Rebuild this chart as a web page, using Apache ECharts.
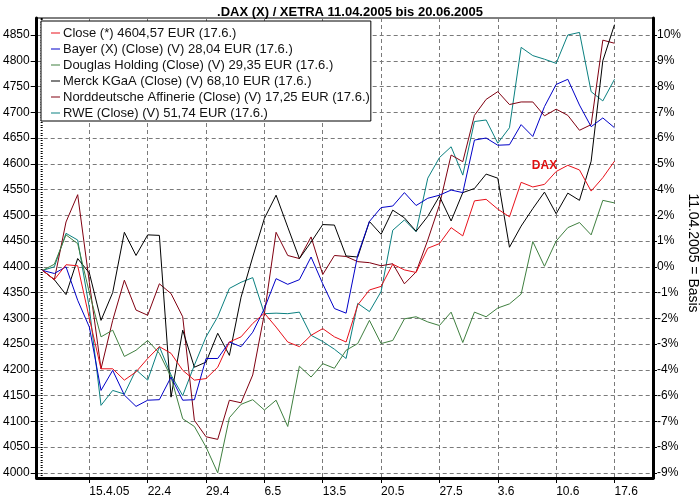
<!DOCTYPE html>
<html><head><meta charset="utf-8">
<script src="https://cdn.jsdelivr.net/npm/echarts@6/dist/echarts.min.js"></script>
<style>html,body{margin:0;padding:0;background:#fff}#c{width:700px;height:500px}</style>
</head><body><div id="c"></div>
<script>
// trading days 11.04.2005 (index 0) .. 17.06.2005 (index 49)
const xTickIndex = [4, 9, 14, 19, 24, 29, 34, 39, 44, 49];
const xTickLabels = ['15.4.05', '22.4', '29.4', '6.5', '13.5', '20.5', '27.5', '3.6', '10.6', '17.6'];
const leftTicks = [4000, 4050, 4100, 4150, 4200, 4250, 4300, 4350, 4400, 4450, 4500, 4550, 4600, 4650, 4700, 4750, 4800, 4850];
const rightTickLabels = ['-9%', '-8%', '-7%', '-6%', '-4%', '-3%', '-2%', '-1%', '0%', '1%', '2%', '4%', '5%', '6%', '7%', '8%', '9%', '10%'];

const seriesNames = [
  'Close (*) 4604,57 EUR (17.6.)',
  'Bayer (X) (Close) (V) 28,04 EUR (17.6.)',
  'Douglas Holding (Close) (V) 29,35 EUR (17.6.)',
  'Merck KGaA (Close) (V) 68,10 EUR (17.6.)',
  'Norddeutsche Affinerie (Close) (V) 17,25 EUR (17.6.)',
  'RWE (Close) (V) 51,74 EUR (17.6.)'
];
const seriesColors = ['#e8101a', '#0000c8', '#3f7f3f', '#000000', '#800010', '#0a8080'];

const dax = [4393, 4375, 4404, 4402, 4300, 4202, 4202, 4180, 4196, 4222, 4245, 4232, 4199, 4180, 4183, 4205, 4254, 4264, 4290, 4310, 4283, 4254, 4245, 4267, 4280, 4264, 4254, 4326, 4355, 4362, 4405, 4394, 4389, 4436, 4445, 4476, 4460, 4528, 4531, 4512, 4497, 4564, 4555, 4560, 4585, 4597, 4588, 4547, 4573, 4605];
const bayer = [4393, 4387, 4400, 4335, 4283, 4160, 4199, 4151, 4129, 4141, 4142, 4186, 4141, 4142, 4222, 4222, 4254, 4245, 4273, 4319, 4377, 4366, 4375, 4419, 4367, 4319, 4310, 4423, 4488, 4515, 4518, 4544, 4519, 4533, 4539, 4549, 4544, 4646, 4650, 4636, 4637, 4676, 4653, 4711, 4754, 4764, 4714, 4672, 4689, 4670];
const douglas = [4393, 4405, 4462, 4445, 4350, 4264, 4277, 4226, 4238, 4257, 4232, 4186, 4105, 4090, 4050, 4000, 4107, 4133, 4142, 4122, 4141, 4090, 4207, 4186, 4212, 4203, 4238, 4251, 4296, 4251, 4257, 4299, 4303, 4293, 4286, 4312, 4253, 4312, 4303, 4320, 4328, 4347, 4449, 4401, 4450, 4476, 4486, 4462, 4529, 4524];
const merck = [4393, 4375, 4346, 4416, 4388, 4296, 4350, 4467, 4422, 4462, 4461, 4147, 4277, 4205, 4215, 4271, 4228, 4341, 4419, 4494, 4539, 4477, 4416, 4448, 4482, 4481, 4421, 4419, 4488, 4463, 4510, 4495, 4469, 4498, 4537, 4489, 4544, 4552, 4580, 4572, 4438, 4479, 4513, 4545, 4503, 4543, 4529, 4605, 4800, 4870];
const affinerie = [4393, 4375, 4487, 4540, 4370, 4202, 4296, 4374, 4316, 4306, 4367, 4348, 4303, 4102, 4070, 4065, 4141, 4136, 4190, 4309, 4467, 4422, 4416, 4458, 4385, 4422, 4420, 4410, 4408, 4402, 4406, 4367, 4390, 4452, 4520, 4617, 4604, 4694, 4725, 4740, 4715, 4720, 4720, 4693, 4706, 4694, 4665, 4676, 4840, 4834];
const rwe = [4393, 4400, 4465, 4452, 4320, 4131, 4160, 4153, 4200, 4180, 4245, 4190, 4150, 4209, 4264, 4303, 4358, 4370, 4379, 4309, 4310, 4309, 4312, 4267, 4255, 4240, 4222, 4329, 4313, 4352, 4471, 4491, 4468, 4572, 4612, 4633, 4578, 4682, 4685, 4640, 4670, 4826, 4810, 4803, 4795, 4850, 4855, 4740, 4722, 4764];

const allData = [dax, bayer, douglas, merck, affinerie, rwe];
const FONT = 'Liberation Sans, Arial, sans-serif';
const Y_MIN = 3990, Y_MAX = 4883;

const chart = echarts.init(document.getElementById('c'), null, {renderer: 'canvas'});

const series = allData.map((arr, k) => {
  const s = {
    name: seriesNames[k],
    type: 'line',
    data: arr.map((v, i) => [i, v]),
    showSymbol: false,
    symbol: 'none',
    lineStyle: {width: 1, color: seriesColors[k]},
    itemStyle: {color: seriesColors[k]},
    animation: false,
    z: 10 - k
  };
  if (k === 0) {
    s.markPoint = {
      symbol: 'circle', symbolSize: 1,
      itemStyle: {color: 'rgba(0,0,0,0)'},
      label: {show: true, position: 'inside', formatter: 'DAX', color: '#e01010', fontWeight: 'bold', fontSize: 12, fontFamily: FONT},
      data: [{coord: [43, 4597]}]
    };
  }
  return s;
});

chart.setOption({
  animation: false,
  backgroundColor: '#fff',
  title: {
    text: '.DAX (X) / XETRA 11.04.2005 bis 20.06.2005',
    left: 'center', top: 1,
    textStyle: {fontSize: 13, fontWeight: 'bold', color: '#000', fontFamily: FONT}
  },
  legend: {
    orient: 'vertical', left: 41, top: 21,
    backgroundColor: '#fff', borderColor: '#000', borderWidth: 1,
    padding: [5, 1, 1, 10], itemGap: 2, itemWidth: 9, itemHeight: 1,
    icon: 'rect',
    textStyle: {fontSize: 13, lineHeight: 14, color: '#111', fontFamily: FONT, padding: [0, 0, 0, -2]},
    data: seriesNames.map(n => ({name: n, icon: 'rect'})),
    z: 20
  },
  grid: {left: 34, right: 47, top: 18, bottom: 22, show: true, borderColor: '#000', borderWidth: 1, backgroundColor: '#fff'},
  xAxis: {
    type: 'value', min: -0.512, max: 52.3,
    axisLine: {show: true, onZero: false, lineStyle: {color: '#000', width: 3}},
    axisTick: {show: true, customValues: xTickIndex, length: 5, lineStyle: {color: '#000', width: 1}},
    axisLabel: {show: true, customValues: xTickIndex, formatter: v => xTickLabels[xTickIndex.indexOf(v)] || '',
      align: 'left', fontSize: 12, color: '#000', fontFamily: FONT, margin: 8},
    splitLine: {show: true, lineStyle: {color: '#7a7a7a', type: [4, 3], width: 1}}
  },
  yAxis: [
    {
      type: 'value', position: 'left', min: Y_MIN, max: Y_MAX,
      axisLine: {show: true, onZero: false, lineStyle: {color: '#000', width: 3}},
      axisTick: {show: true, customValues: leftTicks, length: 6, lineStyle: {color: '#000'}},
      axisLabel: {show: true, customValues: leftTicks, formatter: v => String(v), fontSize: 12, color: '#000', fontFamily: FONT, margin: 7},
      splitLine: {show: true, lineStyle: {color: '#7a7a7a', type: [4, 3], width: 1}}
    },
    {
      type: 'value', position: 'right', min: Y_MIN, max: Y_MAX,
      axisLine: {show: true, onZero: false, lineStyle: {color: '#000', width: 3}},
      axisTick: {show: true, customValues: leftTicks, length: 4, lineStyle: {color: '#000'}},
      axisLabel: {show: true, customValues: leftTicks, formatter: v => rightTickLabels[leftTicks.indexOf(v)] || '',
        fontSize: 12, color: '#000', fontFamily: FONT, margin: 4},
      splitLine: {show: false}
    },
    {
      type: 'value', position: 'left', min: Y_MIN, max: Y_MAX, interval: 5,
      axisLine: {show: false}, axisLabel: {show: false}, splitLine: {show: false},
      axisTick: {show: true, length: 2, lineStyle: {color: '#000'}}
    },
    {
      type: 'value', position: 'right', min: Y_MIN, max: Y_MAX, interval: 5,
      axisLine: {show: false}, axisLabel: {show: false}, splitLine: {show: false},
      axisTick: {show: true, length: 2, lineStyle: {color: '#000'}}
    }
  ],
  graphic: [{
    type: 'text',
    rotation: -Math.PI / 2,
    style: {text: '11.04.2005 = Basis', font: '14px ' + FONT, fill: '#000', align: 'center', verticalAlign: 'middle'},
    x: 693, y: 253
  }],
  series: series
});
</script>
</body></html>
